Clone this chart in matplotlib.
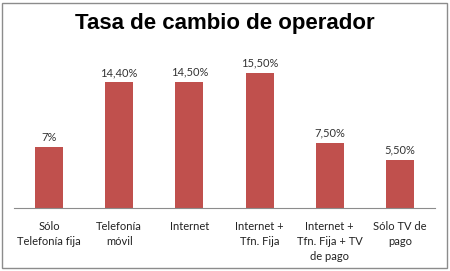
import matplotlib
matplotlib.use("Agg")
from matplotlib import pyplot as plt
from matplotlib.patches import Rectangle
import numpy as np

categorias = ["Sólo\nTelefonía fija", "Telefonía\nmóvil", "Internet",
              "Internet +\nTfn. Fija", "Internet +\nTfn. Fija + TV\nde pago",
              "Sólo TV de\npago"]
valores = [7.0, 14.4, 14.5, 15.5, 7.5, 5.5]
etiquetas = ["7%", "14,40%", "14,50%", "15,50%", "7,50%", "5,50%"]

fig = plt.figure(figsize=(4.5, 2.71), dpi=100)
fig.patches.append(Rectangle((2/450, 3/271), 445/450, 265/271, transform=fig.transFigure,
                             fill=False, edgecolor="#8c8c8c", linewidth=1))

ax = fig.add_axes([14/450, 1-208/271, 421/450, 157/271])
x = np.arange(len(valores))
ax.bar(x, valores, width=0.4, color="#C0504D")
ax.set_xlim(-0.5, len(valores)-0.5)
ax.set_ylim(0, 18)

for xi, v, t in zip(x, valores, etiquetas):
    ax.text(xi, v + 0.5, t, ha="center", va="bottom", fontsize=8,
            family="Lato", color="#333333")

ax.set_xticks(x)
ax.set_xticklabels(categorias, fontsize=8, family="Lato", color="#222222", linespacing=1.45)
ax.tick_params(axis="x", length=0, pad=9)
ax.set_yticks([])
for s in ["top", "right", "left"]:
    ax.spines[s].set_visible(False)
ax.spines["bottom"].set_color("#8c8c8c")

fig.text(0.5, 1-23/271, "Tasa de cambio de operador", ha="center", va="center",
         fontsize=16, fontweight="bold", family="Liberation Sans")

fig.savefig("out.png", dpi=100)
